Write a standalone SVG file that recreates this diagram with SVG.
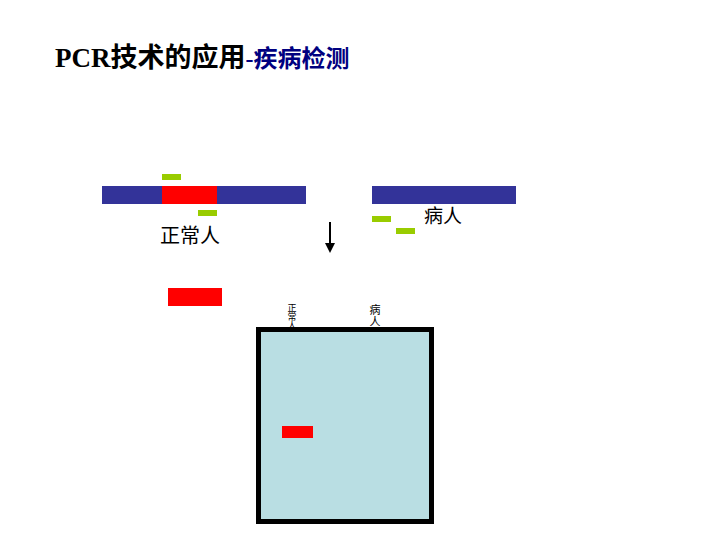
<svg xmlns="http://www.w3.org/2000/svg" width="720" height="540" viewBox="0 0 720 540">
<style>
.cjk{font-family:"Liberation Sans","Noto Sans CJK SC",sans-serif;fill:#000}
.dna{fill:#333399}
.tgt{fill:#FF0000}
.pr{fill:#99CC00}
</style>
<rect width="720" height="540" fill="#fff"/>
<g id="title">
<text x="55" y="67" font-size="27" font-weight="bold" font-family="'Liberation Serif','Noto Sans CJK SC',serif" fill="#000">PCR技术的应用<tspan fill="#000080" font-size="24">-疾病检测</tspan></text>
</g>
<g id="normal">
<rect class="dna" x="102" y="186" width="204" height="18"/>
<rect class="tgt" x="162" y="186" width="55" height="18"/>
<rect class="pr" x="162" y="174" width="19" height="6"/>
<rect class="pr" x="198" y="210" width="19" height="6"/>
<text class="cjk" x="160" y="243" font-size="20">正常人</text>
</g>
<g id="patient">
<rect class="dna" x="372" y="186" width="144" height="18"/>
<rect class="pr" x="372" y="216" width="19" height="6"/>
<rect class="pr" x="396" y="228" width="19" height="6"/>
<text class="cjk" x="424" y="223" font-size="19">病人</text>
</g>
<g id="product">
<rect class="tgt" x="168" y="288" width="54" height="18"/>
</g>
<g id="gel">
<rect x="258.5" y="329.5" width="173" height="192" fill="#B9DEE3" stroke="#000" stroke-width="5"/>
<rect class="tgt" x="282" y="426" width="31" height="12"/>
<text class="cjk" font-size="9" text-anchor="middle"><tspan x="292" y="311">正</tspan><tspan x="292" y="320">常</tspan><tspan x="292" y="329">人</tspan></text>
<text class="cjk" font-size="11" text-anchor="middle"><tspan x="375" y="314">病</tspan><tspan x="375" y="326">人</tspan></text>
</g>
<g id="connectors">
<line x1="330" y1="222" x2="330" y2="246" stroke="#000" stroke-width="2"/>
<path d="M325,243 L335,243 L330,253 Z" fill="#000"/>
</g>
</svg>
